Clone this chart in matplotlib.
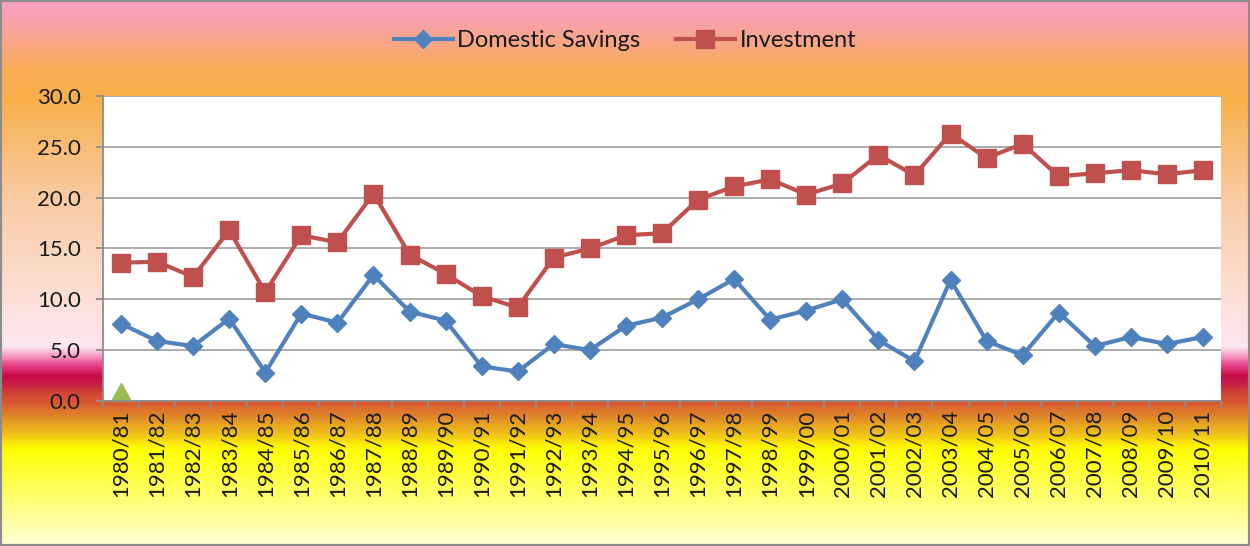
import numpy as np
import matplotlib
matplotlib.use("Agg")
import matplotlib.pyplot as plt
from matplotlib.colors import LinearSegmentedColormap
from matplotlib.patches import Rectangle

# data (% of GDP)
years = ["1980/81", "1981/82", "1982/83", "1983/84", "1984/85", "1985/86",
         "1986/87", "1987/88", "1988/89", "1989/90", "1990/91", "1991/92",
         "1992/93", "1993/94", "1994/95", "1995/96", "1996/97", "1997/98",
         "1998/99", "1999/00", "2000/01", "2001/02", "2002/03", "2003/04",
         "2004/05", "2005/06", "2006/07", "2007/08", "2008/09", "2009/10",
         "2010/11"]
savings = [7.6, 5.9, 5.4, 8.1, 2.8, 8.6, 7.7, 12.4, 8.8, 7.9, 3.4, 2.9,
           5.6, 5.0, 7.4, 8.2, 10.0, 12.0, 8.0, 8.9, 10.0, 6.0, 3.9, 11.9,
           5.9, 4.5, 8.7, 5.4, 6.3, 5.6, 6.3]
investment = [13.6, 13.7, 12.2, 16.8, 10.7, 16.3, 15.6, 20.4, 14.4, 12.5,
              10.3, 9.2, 14.1, 15.0, 16.3, 16.5, 19.8, 21.1, 21.8, 20.3,
              21.4, 24.2, 22.2, 26.3, 23.9, 25.3, 22.1, 22.4, 22.7, 22.3,
              22.7]
stray = [0.0]  # lone point of a third series, first year only

plt.rcParams['font.family'] = ['Lato', 'DejaVu Sans']

fig = plt.figure(figsize=(12.5, 5.46), dpi=100)

# gradient background (top to bottom)
stops = [(0.00, '#FAA0C0'), (0.03, '#F9A0B2'), (0.13, '#F7AE52'),
         (0.18, '#F7B04A'), (0.35, '#F9C99E'), (0.55, '#FCE0D8'),
         (0.635, '#FDE6F0'), (0.655, '#F590C0'), (0.67, '#E84088'),
         (0.69, '#C80C48'), (0.70, '#C81848'), (0.72, '#D04038'),
         (0.74, '#D85A30'), (0.765, '#E08A28'), (0.80, '#F2C818'),
         (0.825, '#FFFF00'), (0.88, '#FFFF48'), (1.00, '#FFFFD4')]
cmap = LinearSegmentedColormap.from_list('bg', stops)
bg = fig.add_axes([0, 0, 1, 1], zorder=0)
bg.imshow(np.linspace(0, 1, 546).reshape(-1, 1), aspect='auto', cmap=cmap,
          extent=[0, 1, 0, 1])
bg.axis('off')

ax = fig.add_axes([0.0824, 0.2656, 0.8944, 0.5586], zorder=1)
ax.set_facecolor('white')
x = np.arange(len(years))

ax.plot(x, savings, color='#4F81BD', lw=3, marker='D', ms=9.5,
        label='Domestic Savings')
ax.plot(x, investment, color='#C0504D', lw=3, marker='s', ms=13.5,
        label='Investment')
tri = [(-1, 0), (1, 0), (0, 1.8), (-1, 0)]
ax.plot(x[:len(stray)], stray, ls='none', marker=tri, ms=26,
        color='#9BBB59', clip_on=False, label='_nolegend_')

ax.set_xlim(-0.5, len(years) - 0.5)
ax.set_ylim(0, 30)
ax.set_yticks(np.arange(0, 31, 5))
ax.set_yticklabels([f"{v:.1f}" for v in np.arange(0, 31, 5)])
ax.set_xticks(x)
ax.set_xticklabels(years, rotation=90)
ax.set_xticks(np.arange(-0.5, len(years), 1), minor=True)

ax.yaxis.grid(True, color='#A6A6A6', lw=1.3)
ax.set_axisbelow(True)
for s in ['top', 'right']:
    ax.spines[s].set_visible(False)
for s in ['left', 'bottom']:
    ax.spines[s].set_color('#8C8C8C')
    ax.spines[s].set_linewidth(1.3)

ax.tick_params(axis='y', length=5, color='#8C8C8C', width=1.3, pad=11,
               labelsize=16, labelcolor='#1A1A1A')
ax.tick_params(axis='x', which='major', length=0, pad=6, labelsize=16,
               labelcolor='#1A1A1A')
ax.tick_params(axis='x', which='minor', length=5, color='#8C8C8C', width=1.3)

fig.legend(loc='center', bbox_to_anchor=(0.5, 0.925), ncol=2, frameon=False,
           fontsize=17, handlelength=2.5, columnspacing=1.5,
           handletextpad=0.2, labelcolor='#1A1A1A')

fig.add_artist(Rectangle((0, 0), 1, 1, transform=fig.transFigure, fill=False,
                         ec='#8C8C8C', lw=3, zorder=5))

fig.savefig('out.png', dpi=100)
